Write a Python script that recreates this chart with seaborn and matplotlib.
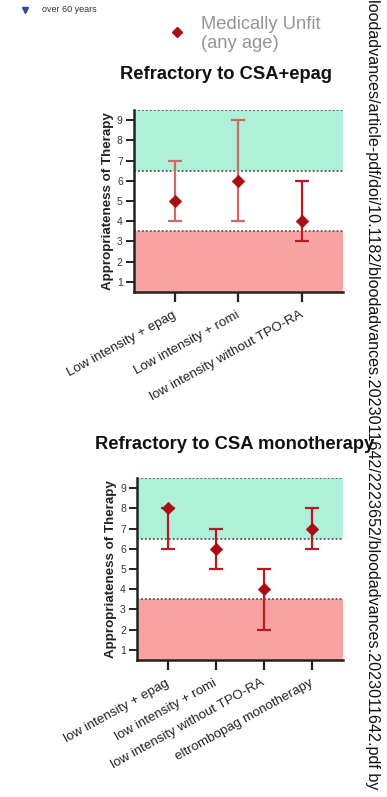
import numpy as np
import pandas as pd
import matplotlib
matplotlib.use("Agg")
import matplotlib.pyplot as plt
import seaborn as sns

# Panel A: refractory to CSA + eltrombopag
epag_therapies = ["Low intensity + epag", "Low intensity + romi", "low intensity without TPO-RA"]
epag_median = [5, 6, 4]
epag_low = [4, 4, 3]
epag_high = [7, 9, 6]

# Panel B: refractory to CSA monotherapy
csa_therapies = ["low intensity + epag", "low intensity + romi",
                 "low intensity without TPO-RA", "eltrombopag monotherapy"]
csa_median = [8, 6, 4, 7]
csa_low = [6, 5, 2, 6]
csa_high = [8, 7, 5, 8]

y_ticks = [1, 2, 3, 4, 5, 6, 7, 8, 9]

sns.set_theme(style="white")
plt.rcParams["font.family"] = ["Liberation Sans", "DejaVu Sans"]

GREEN = "#aef0d8"
RED = "#f9a2a2"
MARK = "#a80f14"
BAR = "#b81c22"
BAR_LIGHT = "#cc6a6a"

fig = plt.figure(figsize=(3.87, 7.97), dpi=100)


def draw_panel(ax, therapies, med, lo, hi, bar_colors, title, title_xy):
    df = pd.DataFrame({"therapy": therapies, "median": med, "low": lo, "high": hi})
    pos = np.arange(len(df))
    ax.axhspan(6.5, 9.5, color=GREEN, lw=0, zorder=0)
    ax.axhspan(0.5, 3.5, color=RED, lw=0, zorder=0)
    for yv in (3.5, 6.5, 9.5):
        ax.axhline(yv, color="#555555", lw=1.3, ls=(0, (1, 1.2)), zorder=1)
    for i, row in df.iterrows():
        ax.errorbar([pos[i]], [row["median"]],
                    yerr=[[row["median"] - row["low"]], [row["high"] - row["median"]]],
                    fmt="none", ecolor=bar_colors[i], elinewidth=1.6, capsize=4.7,
                    capthick=1.6, zorder=2)
    sns.scatterplot(x=pos, y=df["median"], marker="D", s=40, color=MARK,
                    edgecolor=MARK, linewidth=0.5, ax=ax, zorder=3, legend=False)
    n = len(df)
    ax.set_xlim(-0.64, n - 1 + 0.64)
    ax.set_ylim(0.5, 9.5)
    ax.set_yticks(y_ticks)
    ax.set_yticklabels([str(v) for v in y_ticks], fontsize=7.5, color="#333333")
    ax.set_xticks(pos)
    ax.set_xticklabels(df["therapy"], rotation=29, ha="right", va="center",
                       rotation_mode="anchor", fontsize=9.6, color="#222222")
    ax.tick_params(axis="x", length=7, width=1.6, color="#222222", pad=9, bottom=True)
    ax.tick_params(axis="y", length=6, width=1.4, color="#222222", pad=2, left=True)
    ax.set_ylabel("Appropriateness of Therapy", fontsize=9.6, fontweight="bold",
                  color="#222222", labelpad=2)
    ax.set_xlabel("")
    for side in ("top", "right"):
        ax.spines[side].set_visible(False)
    for side in ("left", "bottom"):
        ax.spines[side].set_color("#222222")
        ax.spines[side].set_linewidth(1.8)
    fig.text(title_xy[0], title_xy[1], title, ha="center", va="center",
             fontsize=13.2, fontweight="bold", color="#111111")


ax1 = fig.add_axes([0.346, 0.6336, 0.540, 0.2284])
draw_panel(ax1, epag_therapies, epag_median, epag_low, epag_high,
           [BAR_LIGHT, BAR_LIGHT, BAR],
           "Refractory to CSA+epag", (0.585, 0.906))

ax2 = fig.add_axes([0.354, 0.1719, 0.532, 0.2284])
draw_panel(ax2, csa_therapies, csa_median, csa_low, csa_high,
           [BAR, BAR, BAR, BAR],
           "Refractory to CSA monotherapy", (0.607, 0.442))

# legend entries at the top of the figure
fig.lines.append(plt.Line2D([0.065], [0.9875], marker="v", color="#3344aa",
                            markersize=4, transform=fig.transFigure, linestyle="none"))
fig.text(0.108, 0.9875, "over 60 years", fontsize=6.5, va="center", color="#333333")
fig.lines.append(plt.Line2D([0.458], [0.9596], marker="D", color=MARK,
                            markersize=5, transform=fig.transFigure, linestyle="none"))
fig.text(0.52, 0.9575, "Medically Unfit\n(any age)", fontsize=13.2, va="center",
         color="#959595", linespacing=1.15)

# download stamp along the right edge
fig.text(0.962, 0.009,
         "bloodadvances/article-pdf/doi/10.1182/bloodadvances.2023011642/2223652/bloodadvances.2023011642.pdf by",
         rotation=270, ha="center", va="bottom", fontsize=11.6, color="#111111")

fig.savefig("out.png", dpi=100)
